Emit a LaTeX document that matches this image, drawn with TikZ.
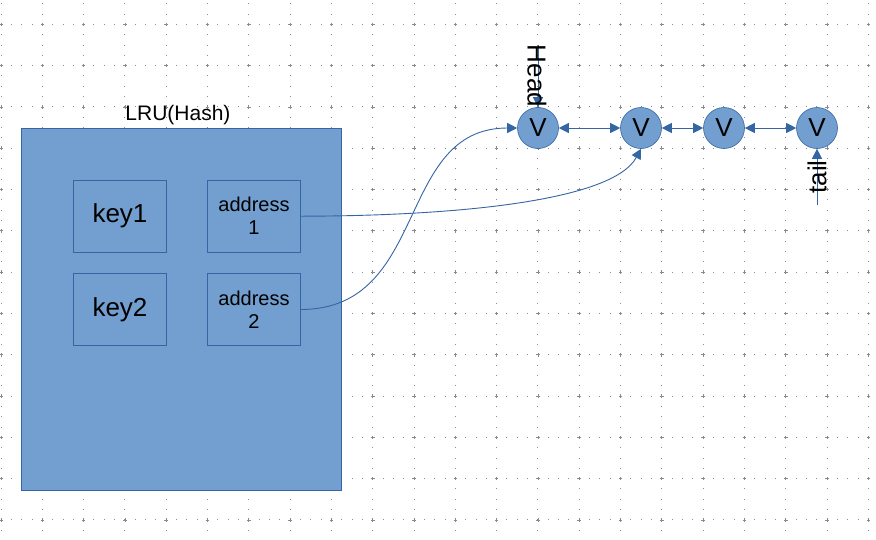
\documentclass[tikz,border=0pt]{standalone}
\usepackage{fontspec}
\setmainfont{Liberation Sans}
\usetikzlibrary{arrows.meta}
\definecolor{fillblue}{HTML}{729FCF}
\definecolor{lineblue}{HTML}{3465A4}
\definecolor{griddot}{HTML}{8A8A8A}
\begin{document}
\begin{tikzpicture}[x=1pt,y=-1pt,
  box/.style={draw=lineblue,fill=fillblue,line width=0.9pt,inner sep=0pt,align=center},
  vnode/.style={circle,draw=lineblue,fill=fillblue,line width=0.6pt,minimum size=41pt,inner sep=0pt,font=\fontsize{26}{28}\selectfont},
  conn/.style={draw=lineblue,line width=0.9pt},
  tip/.style={-{Triangle[length=10pt,width=10pt]}},
  dtip/.style={{Triangle[length=10pt,width=10pt]}-{Triangle[length=10pt,width=10pt]}}]
\useasboundingbox (0,0) rectangle (876,539);
\fill[white] (0,0) rectangle (876,539);
% grid dots
\foreach \j in {-1,...,12}{
  \foreach \k in {0,...,84}{
    \fill[griddot] ({1+\k*10.325-0.45},{24.3+\j*41.3-0.45}) rectangle ++(0.9,0.9);
  }
}
\foreach \i in {0,...,21}{
  \foreach \k in {-2,...,52}{
    \fill[griddot] ({1+\i*41.3-0.45},{24.3+\k*10.325-0.45}) rectangle ++(0.9,0.9);
  }
}
\foreach \i in {0,...,21}{
  \foreach \j in {-1,...,12}{
    \draw[griddot,line width=0.8pt] ({1+\i*41.3-1.8},{24.3+\j*41.3}) -- ++(3.6,0) ({1+\i*41.3},{24.3+\j*41.3-1.8}) -- ++(0,3.6);
  }
}
% hash table
\node[box,minimum width=320pt,minimum height=362pt] (lru) at (181,309) {};
\node[font=\fontsize{21}{24}\selectfont] (lrulabel) at (178,115) {LRU(Hash)};
\node[box,minimum width=93.4pt,minimum height=72.3pt,font=\fontsize{26}{28}\selectfont] (key1) at (120,216.2) {key1};
\node[box,minimum width=93.4pt,minimum height=72.3pt,font=\fontsize{26}{28}\selectfont] (key2) at (120,309.5) {key2};
\node[box,minimum width=93.4pt,minimum height=72.3pt,font=\fontsize{20}{23}\selectfont] (addr1) at (254,216.2) {address\\1};
\node[box,minimum width=93.4pt,minimum height=72.3pt,font=\fontsize{20}{23}\selectfont] (addr2) at (254,309.5) {address\\2};
% list nodes
\node[vnode] (n1) at (538,128) {V};
\node[vnode] (n2) at (641,128) {V};
\node[vnode] (n3) at (724,128) {V};
\node[vnode] (n4) at (817,128) {V};
\draw[conn,dtip] (n1) -- (n2);
\draw[conn,dtip] (n2) -- (n3);
\draw[conn,dtip] (n3) -- (n4);
% head / tail
\coordinate (htop) at (538,45);
\coordinate (tbot) at (817,205);
\draw[conn,tip,line width=0.6pt] (htop) -- (n1.north);
\draw[conn,tip,line width=0.6pt] (tbot) -- (n4.south);
\node[rotate=-90,inner sep=0pt,font=\fontsize{26}{28}\selectfont] (headlbl) at (537,76) {Head};
\node[rotate=90,inner sep=0pt,font=\fontsize{26}{28}\selectfont] (taillbl) at (817,177) {tail};
% pointers
\draw[conn,tip] (addr1.east) .. controls (450,216) and (612,202) .. (n2.south);
\draw[conn,tip] (addr2.east) .. controls (430,309) and (395,128) .. (n1.west);
\end{tikzpicture}
\end{document}
